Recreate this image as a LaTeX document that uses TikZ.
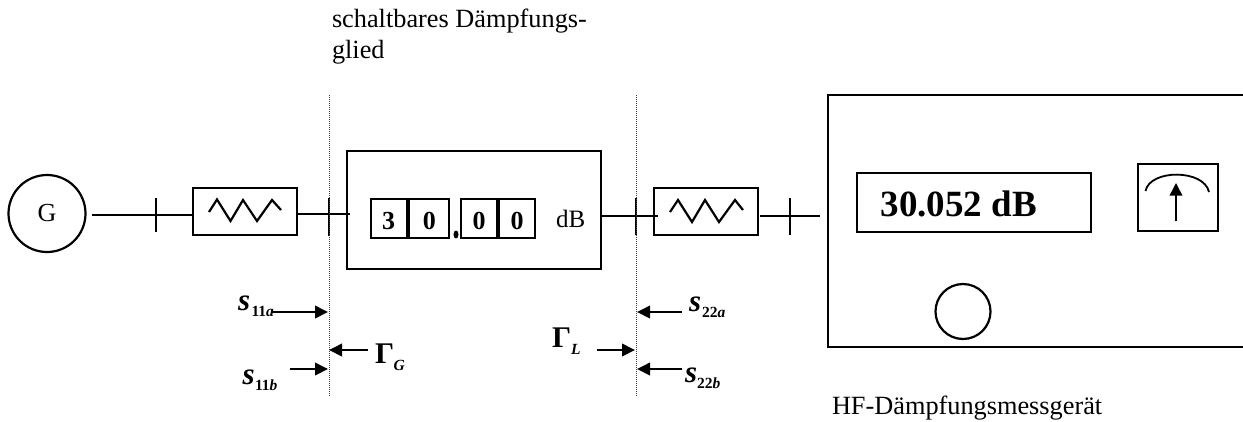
\documentclass[tikz,border=0pt]{standalone}
\usepackage{fontspec}
\setmainfont{Liberation Serif}
\usetikzlibrary{arrows.meta,shapes.geometric}
\newcommand{\fs}[1]{\fontsize{#1}{#1}\selectfont}
\tikzset{
  x=1pt,y=-1pt,
  ln/.style={line width=2.3pt,black},
  boxn/.style={draw,line width=2.3pt,inner sep=0pt,outer sep=0pt,fill=none},
  digit/.style={boxn,font=\fs{26}\bfseries,text height=21pt,text depth=0pt},
  round n/.style={draw,circle,line width=2.2pt,inner sep=0pt,outer sep=0pt},
  dots/.style={line width=1.1pt,black!75,dash pattern=on 1pt off 1pt},
  arr/.style={line width=2pt,-{Triangle[length=13pt,width=12.5pt]}},
  txt/.style={anchor=base west,inner sep=0pt,outer sep=0pt},
  sym/.style={txt,font=\fs{31}\bfseries\itshape},
  sub/.style={txt,font=\fs{15.5}\bfseries\itshape},
  gam/.style={txt,font=\fs{30}\bfseries},
  label/.style={txt,font=\fs{26.3}},
}
\begin{document}
\begin{tikzpicture}
\useasboundingbox (0,0) rectangle (1243,421);
% generator
\node[round n,minimum size=77pt,font=\fs{26}] (G) at (47,213.5) {G};
% attenuator boxes
\node[boxn,minimum width=104pt,minimum height=47pt] (padL) at (245,211.5) {};
\node[boxn,minimum width=104pt,minimum height=47pt] (padR) at (706,211.5) {};
\node[boxn,minimum width=254pt,minimum height=118pt] (att) at (474,210) {};
% digits
\node[digit,minimum width=36pt,minimum height=39pt] (d1) at (388.7,218.5) {3};
\node[digit,minimum width=40pt,minimum height=39pt] (d2) at (429.3,218.5) {0};
\node[digit,minimum width=36pt,minimum height=39pt] (d3) at (479,218.5) {0};
\node[digit,minimum width=36pt,minimum height=39pt] (d4) at (517,218.5) {0};
\node[draw,fill,ellipse,inner sep=0pt,minimum width=4.5pt,minimum height=7.5pt] (dot) at (456,234.5) {};
\node[txt,font=\fs{25}] (dB) at (556,227.5) {dB};
% instrument
\draw[ln] (1243,95) -- (828,95) coordinate (iTL) -- (828,347) -- (1243,347);
\node[boxn,minimum width=234pt,minimum height=59pt] (disp) at (974,202.5) {};
\node[txt,font=\fs{37}\bfseries] (val) at (880.5,216.5) {30.052 dB};
\node[boxn,minimum width=80pt,minimum height=67pt] (meter) at (1178,197.5) {};
\node[round n,minimum size=55pt] (knob) at (963,311.5) {};
% meter internals
\coordinate (mA) at (1145.5,191);
\coordinate (mB) at (1209,192);
\draw[line width=1.8pt] (mA) .. controls (1150,169) and (1204,169) .. (mB);
\coordinate (nS) at (1176,221);
\coordinate (nE) at (1176,183);
\draw[line width=1.5pt,-{Triangle[length=12.5pt,width=12.5pt]}] (nS) -- (nE);
% lines
\coordinate (a1) at (92,215); \coordinate (a2) at (193,215);
\draw[ln] (a1) -- (a2);
\coordinate (b1) at (298,214); \coordinate (b2) at (350,214);
\draw[ln] (b1) -- (b2);
\coordinate (c1) at (602,216); \coordinate (c2) at (658,216);
\draw[ln] (c1) -- (c2);
\coordinate (e1) at (760,216); \coordinate (e2) at (820,216);
\draw[ln] (e1) -- (e2);
% ticks
\foreach \n/\x/\a/\b in {t1/156/198/232, t2/329/198/236, t3/636/198/235, t4/790/198/235}{
  \coordinate (\n a) at (\x,\a); \coordinate (\n b) at (\x,\b);
  \draw[ln] (\n a) -- (\n b);
}
% zigzags
\draw[line width=2.2pt] (209,212) -- (217,199.5) -- (230.5,221) -- (243,200) -- (257,221) -- (272,200) -- (281,210);
\draw[line width=2.2pt] (670,212) -- (678,200) -- (692,222) -- (705,200) -- (719,222) -- (735,200) -- (743,210);
% reference planes
\coordinate (p1a) at (329.5,95); \coordinate (p1b) at (329.5,396);
\coordinate (p2a) at (636.5,95); \coordinate (p2b) at (636.5,397);
\draw[dots] (p1a) -- (p1b);
\draw[dots] (p2a) -- (p2b);
% arrows at planes
\foreach \n/\xa/\xb/\y in {s1/272/328/312, g1/367.7/329/350, s2/289.5/328/369, s3/682/637/312, g2/597/635/350, s4/682/637/369}{
  \coordinate (\n a) at (\xa,\y); \coordinate (\n b) at (\xb,\y);
  \draw[arr] (\n a) -- (\n b);
}
% symbols
\node[sym] (l1) at (238,310.7) {s}; \node[sub] (l1s) at (251.5,316.7) {\upshape 11\itshape a};
\node[sym] (l2) at (242.7,384) {s}; \node[sub] (l2s) at (255,390.7) {\upshape 11\itshape b};
\node[sym] (l3) at (689,311) {s}; \node[sub] (l3s) at (702,317.7) {\upshape 22\itshape a};
\node[sym] (l4) at (685,382.7) {s}; \node[sub] (l4s) at (697,388.5) {\upshape 22\itshape b};
\node[gam] (gG) at (375,363) {Γ}; \node[sub] (gGs) at (393.6,370) {G};
\node[gam] (gL) at (552,347.7) {Γ}; \node[sub] (gLs) at (571,354) {L};
% labels
\node[label] (n1) at (332,27) {schaltbares Dämpfungs-};
\node[label] (n2) at (332,58) {glied};
\node[label] (n3) at (832,414) {HF-Dämpfungsmessgerät};
\end{tikzpicture}
\end{document}
